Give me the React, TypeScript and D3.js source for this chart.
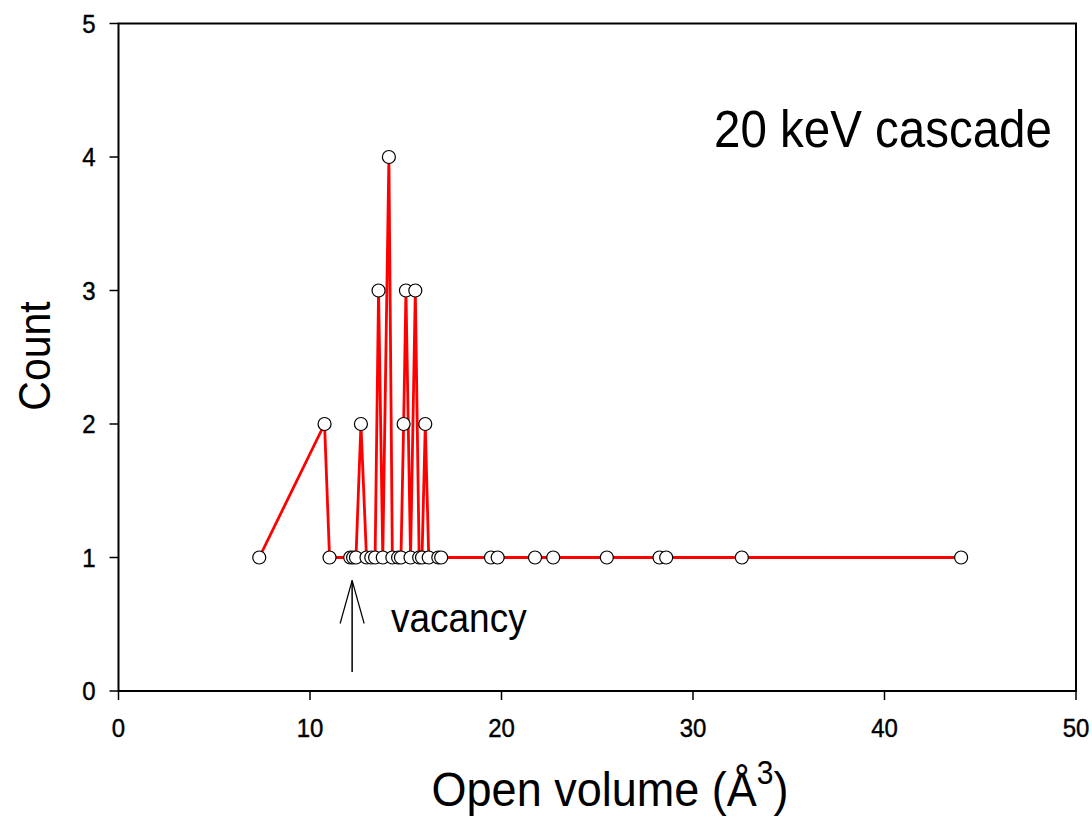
import React from "react";
import * as d3 from "d3";

const openVolume: number[] = [
  7.35, 10.76, 11.02, 12.1, 12.25, 12.4, 12.66, 12.95, 13.2, 13.4, 13.58, 13.8,
  14.12, 14.3, 14.6, 14.75, 14.89, 15.01, 15.25, 15.5, 15.7, 15.85, 16.02, 16.2,
  16.7, 16.85, 19.45, 19.8, 21.75, 22.7, 25.5, 28.25, 28.6, 32.55, 44.0,
];
const counts: number[] = [
  1, 2, 1, 1, 1, 1, 2, 1, 1, 1, 3, 1,
  4, 1, 1, 1, 2, 3, 1, 3, 1, 1, 2, 1,
  1, 1, 1, 1, 1, 1, 1, 1, 1, 1, 1,
];
const xTicks: number[] = [0, 10, 20, 30, 40, 50];
const yTicks: number[] = [0, 1, 2, 3, 4, 5];
const titleText = "20 keV cascade";
const annotationText = "vacancy";
const vacancyX = 12.2;

export default function App() {
  const W = 1092, H = 819;
  const left = 118.5, right = 1076, top = 23.5, bottom = 691;
  const x = d3.scaleLinear().domain([0, 50]).range([left, right]);
  const y = d3.scaleLinear().domain([0, 5]).range([bottom, top]);
  const pts = openVolume.map((v, i) => [v, counts[i]] as [number, number]);
  const line = d3.line<[number, number]>().x(d => x(d[0])).y(d => y(d[1]));
  const font = "'Liberation Sans', Arial, sans-serif";
  const ax = x(vacancyX);
  return (
    <svg width={W} height={H} style={{ position: "absolute", left: 0, top: 0, background: "#fff" }}>
      <rect x={0} y={0} width={W} height={H} fill="#fff" />
      <rect x={left} y={top} width={right - left} height={bottom - top} fill="none" stroke="#000" strokeWidth={2} />
      {xTicks.map(t => (
        <g key={"x" + t}>
          <line x1={x(t)} x2={x(t)} y1={bottom} y2={bottom + 9} stroke="#000" strokeWidth={1.5} />
          <text transform={`translate(${x(t)},${bottom + 46}) scale(1,1.1)`} textAnchor="middle" fontFamily={font} fontSize={24} fill="#000" stroke="#000" strokeWidth={0.4}>{t}</text>
        </g>
      ))}
      {yTicks.map(t => (
        <g key={"y" + t}>
          <line x1={left - 9} x2={left} y1={y(t)} y2={y(t)} stroke="#000" strokeWidth={1.5} />
          <text transform={`translate(${left - 23},${y(t) + 9}) scale(1,1.1)`} textAnchor="end" fontFamily={font} fontSize={24} fill="#000" stroke="#000" strokeWidth={0.4}>{t}</text>
        </g>
      ))}
      <path d={line(pts) || ""} fill="none" stroke="#ff0000" strokeWidth={2.8} />
      {pts.map((p, i) => (
        <circle key={i} cx={x(p[0])} cy={y(p[1])} r={6.5} fill="#fff" stroke="#000" strokeWidth={1.2} />
      ))}
      <line x1={ax} x2={ax} y1={y(0) - 19} y2={y(1) + 23} stroke="#000" strokeWidth={1.5} />
      <line x1={ax} x2={ax - 12} y1={y(1) + 23} y2={y(1) + 66} stroke="#000" strokeWidth={1.2} />
      <line x1={ax} x2={ax + 12} y1={y(1) + 23} y2={y(1) + 66} stroke="#000" strokeWidth={1.2} />
      <text transform={`translate(391,${y(1) + 74}) scale(1,1.12)`} fontFamily={font} fontSize={37} fill="#000">{annotationText}</text>
      <text transform={`translate(714,${y(4) - 10}) scale(1,1.08)`} fontFamily={font} fontSize={47.5} fill="#000">{titleText}</text>
      <text transform={`translate(50,356) rotate(-90) scale(1,1.1)`} textAnchor="middle" fontFamily={font} fontSize={41} fill="#000">Count</text>
      <text transform={`translate(610,806) scale(1,1.08)`} textAnchor="middle" fontFamily={font} fontSize={45} fill="#000">
        Open volume (Å<tspan dy={-20} fontSize={30}>3</tspan><tspan dy={20}>)</tspan>
      </text>
    </svg>
  );
}
